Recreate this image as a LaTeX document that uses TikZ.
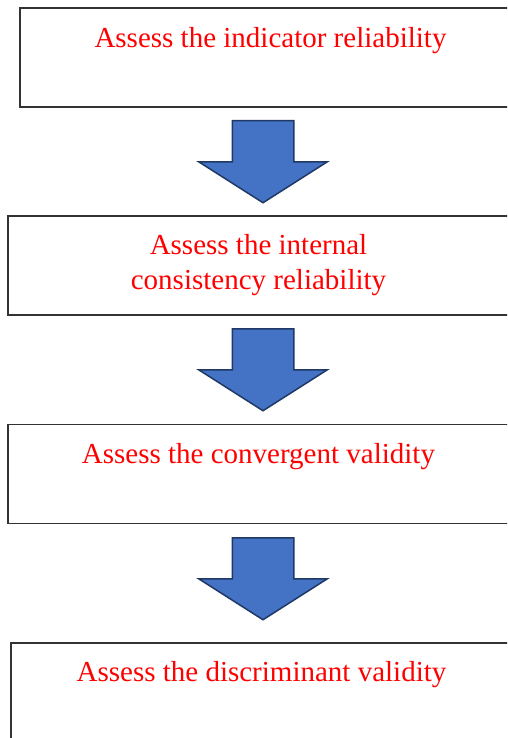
\documentclass[tikz,border=0pt]{standalone}
\usepackage{fontspec}
\setmainfont{Liberation Serif}
\usetikzlibrary{shapes.arrows,positioning}
\definecolor{arrowfill}{RGB}{68,114,196}
\definecolor{arrowline}{RGB}{31,56,100}
\tikzset{stage/.style={rectangle,draw=black!80,line width=1.3pt,minimum width=501pt,minimum height=99pt,inner sep=0pt}}
\tikzset{stagetext/.style={text=red,font=\fontsize{29}{35}\selectfont,align=center,inner sep=0pt,anchor=north}}
\tikzset{flowarrow/.style={single arrow,draw=arrowline,fill=arrowfill,line width=1.5pt,minimum height=82pt,single arrow head extend=33.5pt,single arrow tip angle=115,inner xsep=0pt,inner ysep=30pt,rotate=-90,anchor=tail}}

\begin{document}
\begin{tikzpicture}[x=1pt,y=-1pt]
\useasboundingbox (0,0) rectangle (507,738);
\clip (0,0) rectangle (507,738);
% the four steps
\node[stage] (s1) at (270.5,57.5) {};
\node[stage] (s2) at (258.5,265.5) {};
\node[stage] (s3) at (258.5,474) {};
\node[stage] (s4) at (261.5,692.5) {};
\node[stagetext,below=20pt of s1.north] (t1) {Assess the indicator reliability};
\node[stagetext,below=19pt of s2.north] (t2) {Assess the internal\\consistency reliability};
\node[stagetext,below=19pt of s3.north] (t3) {Assess the convergent validity};
\node[stagetext,below=19pt of s4.north] (t4) {Assess the discriminant validity};
% block arrows between them
\node[flowarrow] (a1) at (263,120) {};
\node[flowarrow] (a2) at (263,328) {};
\node[flowarrow] (a3) at (263,537) {};
\end{tikzpicture}
\end{document}
